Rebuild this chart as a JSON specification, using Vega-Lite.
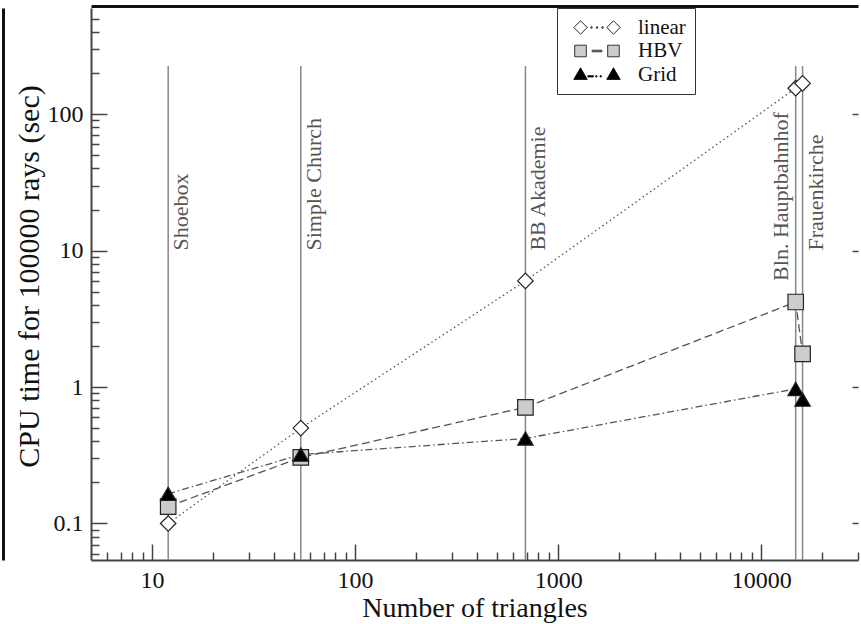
{
  "$schema": "https://vega.github.io/schema/vega-lite/v6.json",
  "width": 767,
  "height": 552,
  "autosize": {"type": "none"},
  "padding": {"left": 91, "top": 8, "right": 3, "bottom": 64},
  "background": "#ffffff",
  "config": {
    "view": {"stroke": null},
    "font": "Liberation Serif",
    "axis": {"grid": false, "labelFont": "Liberation Serif", "titleFont": "Liberation Serif", "titleFontWeight": "normal", "labelColor": "#111", "titleColor": "#111", "tickColor": "#444", "domainColor": "#444", "labelFlush": false, "labelOverlap": false},
    "legend": {"title": null, "orient": "none", "legendX": 466, "legendY": 0, "direction": "vertical", "padding": 9, "fillColor": "#ffffff", "strokeColor": "#333333", "symbolSize": 3721, "clipHeight": 21, "rowPadding": 1.5, "labelOffset": 10, "labelFont": "Liberation Serif", "labelFontSize": 21, "labelColor": "#111111", "symbolStrokeWidth": 1, "symbolOpacity": 1}
  },
  "datasets": {
    "scenes": [
      {"scene": "Shoebox", "n": 12},
      {"scene": "Simple Church", "n": 54},
      {"scene": "BB Akademie", "n": 690},
      {"scene": "Bln. Hauptbahnhof", "n": 14800},
      {"scene": "Frauenkirche", "n": 16000}
    ],
    "times": [
      {"series": "linear", "n": 12, "t": 0.1},
      {"series": "linear", "n": 54, "t": 0.5},
      {"series": "linear", "n": 690, "t": 6},
      {"series": "linear", "n": 14800, "t": 155},
      {"series": "linear", "n": 16000, "t": 168},
      {"series": "HBV", "n": 12, "t": 0.133},
      {"series": "HBV", "n": 54, "t": 0.305},
      {"series": "HBV", "n": 690, "t": 0.71},
      {"series": "HBV", "n": 14800, "t": 4.2},
      {"series": "HBV", "n": 16000, "t": 1.75},
      {"series": "Grid", "n": 12, "t": 0.165},
      {"series": "Grid", "n": 54, "t": 0.32},
      {"series": "Grid", "n": 690, "t": 0.42},
      {"series": "Grid", "n": 14800, "t": 0.97},
      {"series": "Grid", "n": 16000, "t": 0.81}
    ]
  },
  "resolve": {"axis": {"x": "independent", "y": "independent"}, "scale": {"shape": "independent", "fill": "independent", "stroke": "independent"}},
  "layer": [
    {
      "data": {"name": "scenes"},
      "mark": {"type": "rule", "color": "#888888", "strokeWidth": 1.5},
      "encoding": {
        "x": {"field": "n", "type": "quantitative", "scale": {"type": "log", "domain": [5, 30000], "nice": false},
              "axis": {"orient": "top", "domain": true, "domainColor": "#111", "domainWidth": 3, "offset": 2, "ticks": false, "labels": false, "title": null}},
        "y": {"datum": 225, "type": "quantitative", "scale": {"type": "log", "domain": [0.054, 600], "nice": false},
              "axis": {"orient": "right", "values": [0.1, 1, 10, 100], "domain": false, "labels": false, "tickSize": -6, "tickWidth": 1.5, "title": null}},
        "y2": {"datum": 0.054}
      }
    },
    {
      "data": {"name": "scenes"},
      "transform": [{"filter": "datum.scene !== 'Bln. Hauptbahnhof'"}],
      "mark": {"type": "text", "angle": 270, "align": "left", "baseline": "middle", "dy": 13, "fontSize": 22, "color": "#555555", "font": "Liberation Serif"},
      "encoding": {
        "x": {"field": "n", "type": "quantitative", "axis": null},
        "y": {"datum": 10, "type": "quantitative",
              "axis": {"orient": "left", "offset": 88, "domain": true, "domainColor": "#111", "domainWidth": 3, "ticks": false, "labels": false, "title": null}},
        "text": {"field": "scene"}
      }
    },
    {
      "data": {"name": "scenes"},
      "transform": [{"filter": "datum.scene === 'Bln. Hauptbahnhof'"}],
      "mark": {"type": "text", "angle": 270, "align": "left", "baseline": "middle", "dy": -15, "fontSize": 22, "color": "#555555", "font": "Liberation Serif"},
      "encoding": {
        "x": {"field": "n", "type": "quantitative", "axis": null},
        "y": {"datum": 6, "type": "quantitative", "axis": null},
        "text": {"field": "scene"}
      }
    },
    {
      "data": {"name": "times"},
      "mark": {"type": "line", "color": "#555555", "strokeWidth": 1.3},
      "encoding": {
        "x": {"field": "n", "type": "quantitative",
              "axis": {"orient": "bottom", "values": [10, 100, 1000, 10000], "format": "d", "tickSize": -16, "tickWidth": 1.5, "domainWidth": 2, "labelFontSize": 24, "labelPadding": 24, "title": "Number of triangles", "titleFontSize": 28, "titleBaseline": "alphabetic", "titleY": 56}},
        "y": {"field": "t", "type": "quantitative",
              "axis": {"orient": "left", "values": [0.1, 1, 10, 100], "format": "~g", "tickSize": -16, "tickWidth": 1.5, "domainWidth": 2, "labelFontSize": 24, "labelPadding": 24, "title": "CPU time for 100000 rays (sec)", "titleFontSize": 30, "titleAngle": 270, "titleBaseline": "alphabetic", "titleAlign": "center", "titleX": -53, "titleY": 268}},
        "strokeDash": {"field": "series", "type": "nominal",
                       "scale": {"domain": ["Grid", "linear", "HBV"], "range": [[7, 3, 1.5, 3], [1.5, 3], [8, 4]]}, "legend": null}
      }
    },
    {
      "data": {"name": "times"},
      "mark": {"type": "point", "filled": true, "size": 240, "stroke": "#222222", "strokeWidth": 1.2, "opacity": 1},
      "encoding": {
        "x": {"field": "n", "type": "quantitative",
              "axis": {"orient": "bottom", "values": [6, 7, 8, 9, 20, 30, 40, 50, 60, 70, 80, 90, 200, 300, 400, 500, 600, 700, 800, 900, 2000, 3000, 4000, 5000, 6000, 7000, 8000, 9000, 20000, 30000], "tickSize": -8, "tickWidth": 1.5, "labels": false, "domain": false, "title": null}},
        "y": {"field": "t", "type": "quantitative",
              "axis": {"orient": "left", "values": [0.06, 0.07, 0.08, 0.09, 0.2, 0.3, 0.4, 0.5, 0.6, 0.7, 0.8, 0.9, 2, 3, 4, 5, 6, 7, 8, 9, 20, 30, 40, 50, 60, 70, 80, 90, 200, 300, 400, 500], "tickSize": -8, "tickWidth": 1.5, "labels": false, "domain": false, "title": null}},
        "shape": {"field": "series", "type": "nominal", "scale": {"domain": ["HBV", "Grid", "linear"], "range": ["square", "triangle-up", "diamond"]}, "legend": null},
        "fill": {"field": "series", "type": "nominal", "scale": {"domain": ["HBV", "Grid", "linear"], "range": ["#cccccc", "#000000", "#ffffff"]}, "legend": null}
      }
    },
    {
      "data": {"name": "times"},
      "transform": [{"filter": "false"}],
      "mark": {"type": "point", "filled": true, "strokeWidth": 1},
      "encoding": {
        "shape": {"field": "series", "type": "nominal",
                  "scale": {"domain": ["linear", "HBV", "Grid"], "range": [
                    "M-0.76,0L-0.54,-0.22L-0.32,0L-0.54,0.22Z M0.32,0L0.54,-0.22L0.76,0L0.54,0.22Z M-0.2,-0.02h0.04v0.04h-0.04Z M-0.02,-0.02h0.04v0.04h-0.04Z M0.16,-0.02h0.04v0.04h-0.04Z",
                    "M-0.73,-0.19H-0.35V0.19H-0.73Z M0.35,-0.19H0.73V0.19H0.35Z M-0.16,-0.025H0.16V0.025H-0.16Z",
                    "M-0.54,-0.22L-0.32,0.16L-0.76,0.16Z M0.54,-0.22L0.76,0.16L0.32,0.16Z M-0.3,0.04H-0.12V0.08H-0.3Z M-0.04,0.04h0.04v0.04h-0.04Z M0.1,0.04h0.04v0.04h-0.04Z"]},
                  "legend": {}},
        "fill": {"field": "series", "type": "nominal",
                 "scale": {"domain": ["linear", "HBV", "Grid"], "range": ["#ffffff", "#cccccc", "#000000"]},
                 "legend": {}},
        "stroke": {"field": "series", "type": "nominal",
                   "scale": {"domain": ["linear", "HBV", "Grid"], "range": ["#222222", "#333333", "#111111"]},
                   "legend": {}}
      }
    }
  ]
}
